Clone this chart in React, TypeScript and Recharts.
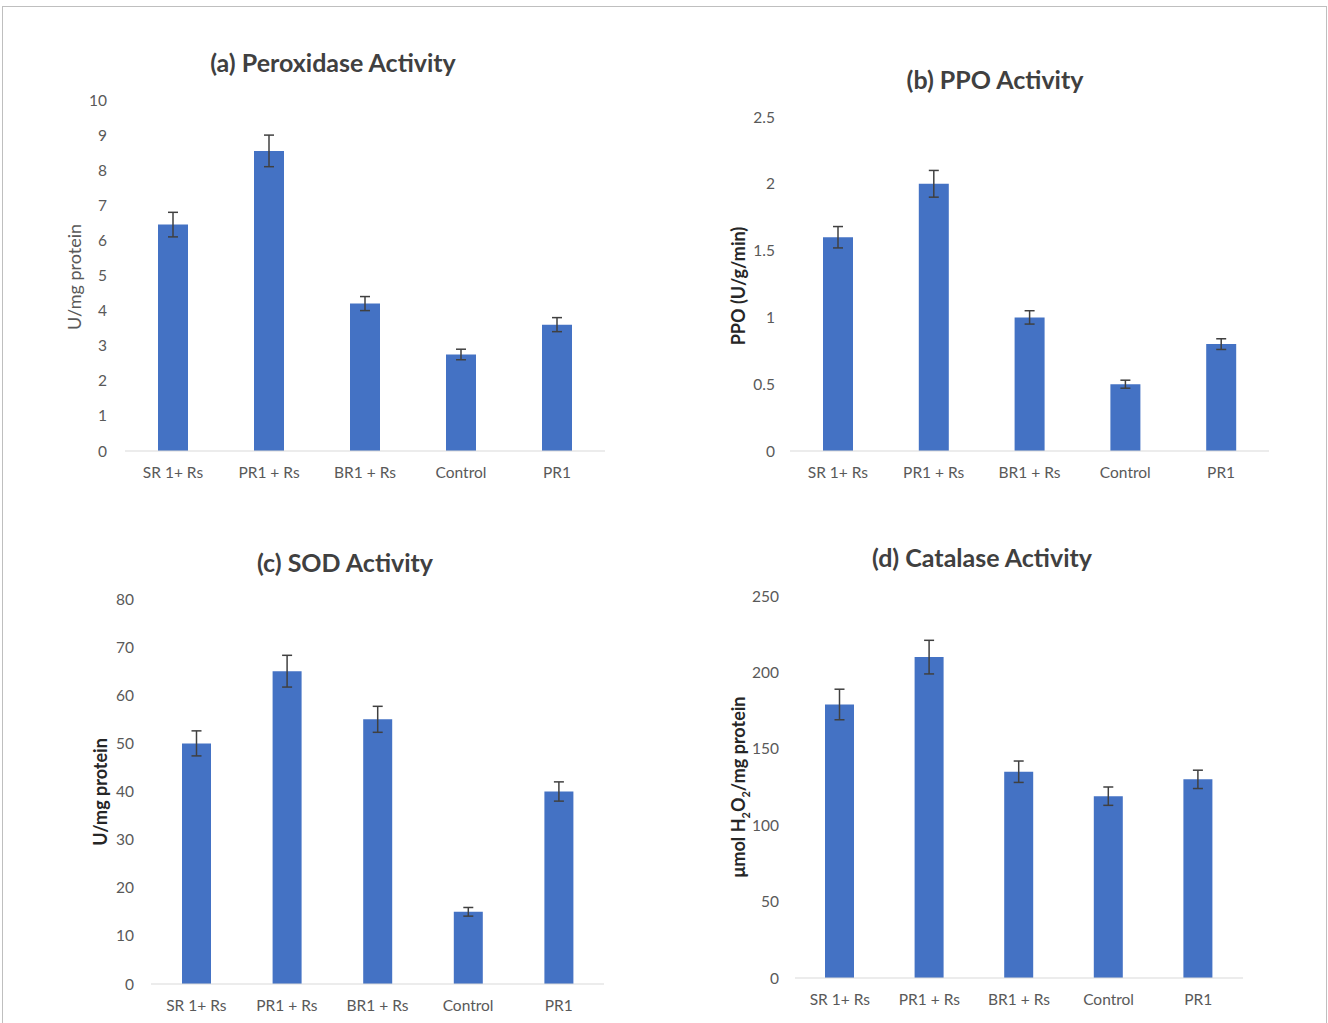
import React from "react";
import { BarChart, Bar, XAxis, YAxis, ErrorBar } from "recharts";

const categories = ["SR 1+ Rs", "PR1 + Rs", "BR1 + Rs", "Control", "PR1"];

const peroxidaseValues = [6.45, 8.55, 4.2, 2.75, 3.6];
const peroxidaseErrors = [0.35, 0.45, 0.2, 0.15, 0.2];
const peroxidaseTicks = [0, 1, 2, 3, 4, 5, 6, 7, 8, 9, 10];

const ppoValues = [1.6, 2.0, 1.0, 0.5, 0.8];
const ppoErrors = [0.08, 0.1, 0.05, 0.03, 0.04];
const ppoTicks = [0, 0.5, 1, 1.5, 2, 2.5];

const sodValues = [50, 65, 55, 15, 40];
const sodErrors = [2.6, 3.3, 2.7, 0.9, 2.0];
const sodTicks = [0, 10, 20, 30, 40, 50, 60, 70, 80];

const catalaseValues = [179, 210, 135, 119, 130];
const catalaseErrors = [10, 11, 7, 6, 6];
const catalaseTicks = [0, 50, 100, 150, 200, 250];

const FONT = "Lato, 'Open Sans', sans-serif";
const BAR = "#4472C4";
const TEXT = "#595959";

type PanelProps = {
  values: number[];
  errors: number[];
  ticks: number[];
  plotLeft: number;
  plotRight: number;
  plotTop: number;
  plotBottom: number;
  tickGap: number;
  title: string;
  titleX: number;
  titleY: number;
  yLabel: React.ReactNode;
  yLabelX: number;
  yLabelY: number;
  yLabelBold: boolean;
  barSize: number;
};

function Panel(p: PanelProps) {
  const data = categories.map((c, i) => ({ name: c, value: p.values[i], err: p.errors[i] }));
  const yw = 60;
  const mTop = 10;
  const mBottom = 10;
  const xh = 30;
  const left = p.plotLeft - yw;
  const top = p.plotTop - mTop;
  const width = p.plotRight - p.plotLeft + yw + 5;
  const height = p.plotBottom - p.plotTop + mTop + mBottom + xh;
  const maxV = p.ticks[p.ticks.length - 1];
  return (
    <>
      <div
        style={{
          position: "absolute",
          left: p.titleX - 250,
          top: p.titleY - 16,
          width: 500,
          textAlign: "center",
          fontFamily: FONT,
          fontWeight: 700,
          fontSize: 25,
          lineHeight: "32px",
          color: "#404040",
          whiteSpace: "nowrap",
        }}
      >
        {p.title}
      </div>
      <div
        style={{
          position: "absolute",
          left: p.yLabelX - 150,
          top: p.yLabelY - 12,
          width: 300,
          height: 24,
          lineHeight: "24px",
          textAlign: "center",
          transform: "rotate(-90deg)",
          fontFamily: FONT,
          fontWeight: p.yLabelBold ? 700 : 400,
          fontSize: 18,
          color: p.yLabelBold ? "#262626" : TEXT,
          whiteSpace: "nowrap",
        }}
      >
        {p.yLabel}
      </div>
      <div style={{ position: "absolute", left, top }}>
        <BarChart
          width={width}
          height={height}
          data={data}
          margin={{ top: mTop, right: 5, bottom: mBottom, left: 0 }}
          barCategoryGap={0}
        >
          <XAxis
            dataKey="name"
            height={xh}
            tickLine={false}
            axisLine={{ stroke: "#d9d9d9", strokeWidth: 1 }}
            tickSize={0}
            tickMargin={16}
            interval={0}
            tick={{ fill: TEXT, fontSize: 15.5, fontFamily: FONT }}
          />
          <YAxis
            width={yw}
            domain={[0, maxV]}
            ticks={p.ticks}
            interval={0}
            axisLine={false}
            tickLine={false}
            tickSize={0}
            tickMargin={p.tickGap}
            tick={{ fill: TEXT, fontSize: 15.5, fontFamily: FONT }}
          />
          <Bar dataKey="value" fill={BAR} barSize={p.barSize} isAnimationActive={false}>
            <ErrorBar dataKey="err" width={5} stroke="#404040" strokeWidth={1.5} />
          </Bar>
        </BarChart>
      </div>
    </>
  );
}

export default function App() {
  return (
    <div
      style={{
        position: "absolute",
        left: 0,
        top: 0,
        width: 1328,
        height: 1023,
        background: "#ffffff",
        overflow: "hidden",
      }}
    >
      <div
        style={{
          position: "absolute",
          left: 2,
          top: 6,
          width: 1325,
          height: 1030,
          border: "1px solid #bfbfbf",
          boxSizing: "border-box",
        }}
      />
      <Panel
        values={peroxidaseValues}
        errors={peroxidaseErrors}
        ticks={peroxidaseTicks}
        plotLeft={125}
        plotRight={605}
        plotTop={100}
        plotBottom={451}
        tickGap={18}
        title="(a) Peroxidase Activity"
        titleX={333}
        titleY={62}
        yLabel="U/mg protein"
        yLabelX={74}
        yLabelY={277}
        yLabelBold={false}
        barSize={30}
      />
      <Panel
        values={ppoValues}
        errors={ppoErrors}
        ticks={ppoTicks}
        plotLeft={790}
        plotRight={1269}
        plotTop={117}
        plotBottom={451}
        tickGap={15}
        title="(b) PPO Activity"
        titleX={995}
        titleY={79}
        yLabel="PPO (U/g/min)"
        yLabelX={738}
        yLabelY={286}
        yLabelBold={true}
        barSize={30}
      />
      <Panel
        values={sodValues}
        errors={sodErrors}
        ticks={sodTicks}
        plotLeft={151}
        plotRight={604}
        plotTop={599}
        plotBottom={984}
        tickGap={17}
        title="(c) SOD Activity"
        titleX={345}
        titleY={562}
        yLabel="U/mg protein"
        yLabelX={100}
        yLabelY={792}
        yLabelBold={true}
        barSize={29}
      />
      <Panel
        values={catalaseValues}
        errors={catalaseErrors}
        ticks={catalaseTicks}
        plotLeft={795}
        plotRight={1243}
        plotTop={596}
        plotBottom={978}
        tickGap={16}
        title="(d) Catalase Activity"
        titleX={982}
        titleY={557}
        yLabel={
          <span>
            μmol H<sub style={{ fontSize: 11 }}>2</sub>O<sub style={{ fontSize: 11 }}>2</sub>/mg protein
          </span>
        }
        yLabelX={738}
        yLabelY={787}
        yLabelBold={true}
        barSize={29}
      />
    </div>
  );
}
